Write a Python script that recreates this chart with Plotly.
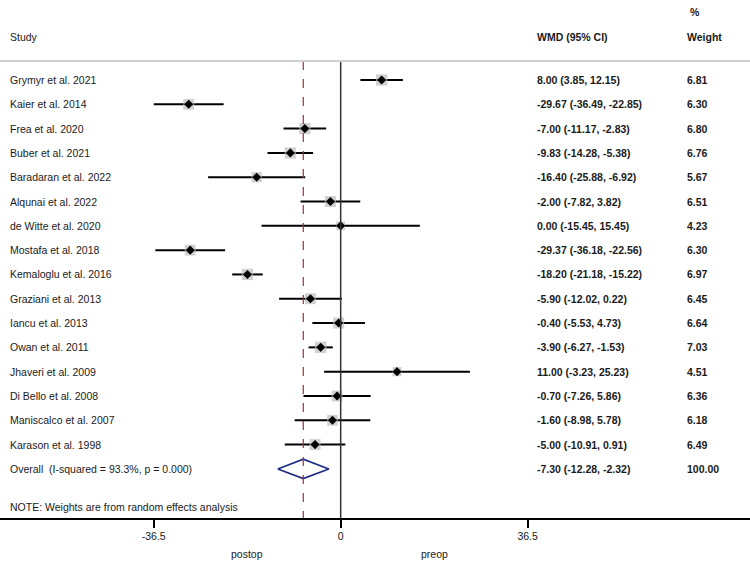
import plotly.graph_objects as go

# Forest plot data (WMD, 95% CI, % weight)
studies = [
    "Grymyr et al. 2021", "Kaier et al. 2014", "Frea et al. 2020", "Buber et al. 2021",
    "Baradaran et al. 2022", "Alqunai et al. 2022", "de Witte et al. 2020", "Mostafa et al. 2018",
    "Kemaloglu et al. 2016", "Graziani et al. 2013", "Iancu et al. 2013", "Owan et al. 2011",
    "Jhaveri et al. 2009", "Di Bello et al. 2008", "Maniscalco et al. 2007", "Karason et al. 1998",
]
wmd = [8.00, -29.67, -7.00, -9.83, -16.40, -2.00, 0.00, -29.37,
       -18.20, -5.90, -0.40, -3.90, 11.00, -0.70, -1.60, -5.00]
ci_low = [3.85, -36.49, -11.17, -14.28, -25.88, -7.82, -15.45, -36.18,
          -21.18, -12.02, -5.53, -6.27, -3.23, -7.26, -8.98, -10.91]
ci_high = [12.15, -22.85, -2.83, -5.38, -6.92, 3.82, 15.45, -22.56,
           -15.22, 0.22, 4.73, -1.53, 25.23, 5.86, 5.78, 0.91]
weight = [6.81, 6.30, 6.80, 6.76, 5.67, 6.51, 4.23, 6.30,
          6.97, 6.45, 6.64, 7.03, 4.51, 6.36, 6.18, 6.49]

overall_label = "Overall  (I-squared = 93.3%, p = 0.000)"
overall_wmd = -7.30
overall_low = -12.28
overall_high = -2.32
overall_weight = 100.00

tick_vals = [-36.5, 0, 36.5]
tick_text = ["-36.5", "0", "36.5"]

rows = list(range(len(studies)))
overall_row = len(studies)
note_row = overall_row + 1.55
rule_row = -0.78
x_range = [-66.5, 79.9]
y_range = [18.02, -3.29]

FONT = "Liberation Sans, Arial, Helvetica, sans-serif"

fig = go.Figure()

# confidence interval lines
ci_x, ci_y = [], []
for r, lo, hi in zip(rows, ci_low, ci_high):
    ci_x += [lo, hi, None]
    ci_y += [r, r, None]
fig.add_trace(go.Scatter(x=ci_x, y=ci_y, mode="lines",
                         line=dict(color="black", width=2), hoverinfo="skip"))

# weight boxes
fig.add_trace(go.Scatter(
    x=wmd, y=rows, mode="markers",
    marker=dict(symbol="square", color="#bdbdbd", size=[4.3 * w ** 0.5 for w in weight],
                line=dict(width=0)),
    hoverinfo="skip"))

# point estimates
fig.add_trace(go.Scatter(
    x=wmd, y=rows, mode="markers",
    marker=dict(symbol="diamond", color="black", size=7),
    hoverinfo="skip"))

# overall diamond
fig.add_trace(go.Scatter(
    x=[overall_low, overall_wmd, overall_high, overall_wmd, overall_low],
    y=[overall_row, overall_row - 0.4, overall_row, overall_row + 0.4, overall_row],
    mode="lines", line=dict(color="#1c2a80", width=1.6), hoverinfo="skip"))

# reference lines
fig.add_shape(type="line", x0=0, x1=0, y0=rule_row, y1=y_range[0],
              line=dict(color="#333333", width=1.5))
fig.add_shape(type="line", x0=overall_wmd, x1=overall_wmd, y0=rule_row, y1=y_range[0],
              line=dict(color="#a3303c", width=1.2, dash="dash"))
fig.add_shape(type="line", xref="paper", x0=0, x1=1, y0=rule_row, y1=rule_row,
              line=dict(color="#d0d0d0", width=2))

text_font = dict(family=FONT, size=10.5, color="#1a1a1a")


def label(x, y, text, xref="paper", yref="y"):
    fig.add_annotation(x=x, y=y, xref=xref, yref=yref, text=text, showarrow=False,
                       xanchor="left", yanchor="middle", font=text_font)


# headers
label(8 / 750, -1.77, "Study")
label(535 / 750, -1.77, "<b>WMD (95% CI)</b>")
label(685 / 750, -1.77, "<b>Weight</b>")
label(688 / 750, -2.8, "<b>%</b>")

for r, s, m, lo, hi, w in zip(rows, studies, wmd, ci_low, ci_high, weight):
    label(8 / 750, r, s)
    label(535 / 750, r, f"<b>{m:.2f} ({lo:.2f}, {hi:.2f})</b>")
    label(685 / 750, r, f"<b>{w:.2f}</b>")

label(8 / 750, overall_row, overall_label)
label(535 / 750, overall_row, f"<b>{overall_wmd:.2f} ({overall_low:.2f}, {overall_high:.2f})</b>")
label(685 / 750, overall_row, f"<b>{overall_weight:.2f}</b>")
label(8 / 750, note_row, "NOTE: Weights are from random effects analysis")

# direction labels under the axis
for xv, t in [(-18.25, "postop"), (18.25, "preop")]:
    fig.add_annotation(x=xv, y=-36 / 518, xref="x", yref="paper", text=t,
                       showarrow=False, xanchor="center", yanchor="middle", font=text_font)

fig.update_xaxes(range=x_range, tickvals=tick_vals, ticktext=tick_text,
                 showgrid=False, zeroline=False, showline=True, linecolor="black",
                 linewidth=1.5, ticks="outside", ticklen=8, tickwidth=1.5,
                 tickcolor="black", tickfont=text_font)
fig.update_yaxes(range=y_range, showgrid=False, zeroline=False, showticklabels=False,
                 showline=False)

fig.update_layout(width=750, height=562, showlegend=False,
                  margin=dict(l=0, r=0, t=0, b=44),
                  plot_bgcolor="white", paper_bgcolor="white")

# drop the default page margin so the figure sits at the window's corner
fig.write_html("out.html", config={"displayModeBar": False},
               post_script="document.body.style.margin='0';")
